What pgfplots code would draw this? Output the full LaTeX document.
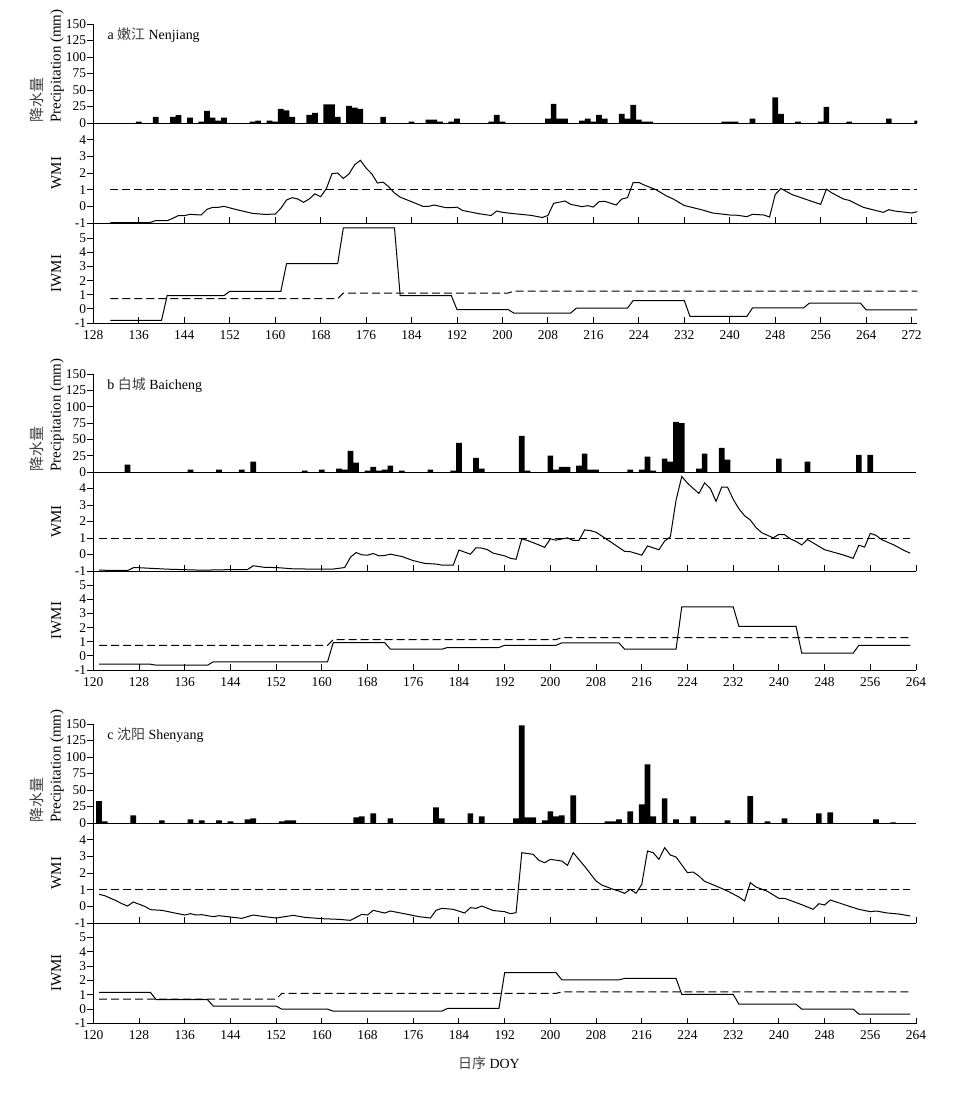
\documentclass[border=0pt]{standalone}
\usepackage{fontspec}
\setmainfont{Liberation Serif}
\newfontfamily\cjkfont{Noto Sans CJK SC}
\usepackage{pgfplots}
\pgfplotsset{compat=1.18}

\newcommand{\tf}{\fontsize{15}{18}\selectfont}
\newcommand{\tkf}{\fontsize{13.5}{16}\selectfont}
\newcommand{\ttlf}{\fontsize{14}{17}\selectfont}
\newcommand{\cjk}[1]{{\cjkfont\color{black!75}#1}}

\pgfplotsset{
  panel/.style={
    scale only axis,
    axis x line*=bottom, axis y line*=left,
    axis line style={line width=0.9bp},
    tick style={black, line width=0.9bp},
    major tick length=6bp,
    xtick align=inside, ytick align=outside,
    /pgf/number format/assume math mode=true,
    tick label style={font=\tkf},
    label style={font=\tf},
    yticklabel style={inner sep=1bp},
    xticklabel style={yshift=-4bp},
    ylabel style={at={(axis description cs:-0.045,0.5)}, anchor=center},
  },
  xa/.style={xmin=128, xmax=273, width=824bp, xtick={128,136,...,272}},
  xb/.style={xmin=120, xmax=264, width=822.7bp, xtick={120,128,...,264}},
  prec/.style={panel, ymin=0, ymax=150, ytick={0,25,...,150}, xtick=\empty,
    ylabel={\cjk{降水量}\\Precipitation (mm)},
    ylabel style={align=left, at={(axis description cs:-0.0356,0)}, anchor=south west, inner sep=0pt}},
  wmi/.style={panel, ymin=-1, ymax=5, ytick={-1,0,...,4}, xticklabel=\empty, ylabel={WMI}},
  iwmi/.style={panel, ymin=-1, ymax=6, ytick={-1,0,...,5}, ylabel={IWMI}},
  bars/.style={ybar, bar width=1, fill=black, draw=none},
  wline/.style={black, line width=1bp, mark=none},
  thr/.style={black, line width=1bp, mark=none, dash pattern=on 8bp off 4bp},
}

\begin{document}
\begin{tikzpicture}
\path[use as bounding box] (0,0) rectangle (964bp,-1100bp);

% ---------------- a Nenjiang ----------------
\begin{axis}[xa, prec, height=99bp, at={(93.3bp,-123bp)}, anchor=south west]
\addplot[bars] coordinates {
(136,2) (139,9.4) (142,9.4) (143,12) (145,8) (147,2) (148,18.4) (149,8) (150,3.5) (151,8)
(156,2) (157,3.5) (159,3.5) (160,2) (161,21.4) (162,19) (163,9.4) (166,12.4) (167,15.4)
(169,28.3) (170,28.3) (171,9.4) (173,25.8) (174,23.4) (175,21.4) (179,9.4) (184,2)
(187,5) (188,5) (189,2) (191,2) (192,6.5) (198,2) (199,12.4) (200,2)
(208,6.5) (209,28.8) (210,6.5) (211,6.5) (214,3.5) (215,6.5) (216,2) (217,12.4) (218,6.5)
(221,14) (222,6.5) (223,27.3) (224,5) (225,2) (226,2) (239,2) (240,2) (241,2) (244,6.5)
(248,39) (249,14) (252,2) (256,2) (257,24.4) (261,2) (268,6.5) (273,3.5)
};
\node[anchor=north west, inner sep=0pt, font=\ttlf] at (rel axis cs:0.017,0.96) {a \cjk{嫩江} Nenjiang};
\end{axis}

\begin{axis}[xa, wmi, height=100bp, at={(93.3bp,-223bp)}, anchor=south west]
\addplot[thr] coordinates {(131,1) (273,1)};
\addplot[wline] coordinates {
(131,-0.97) (137,-0.98) (138,-0.97) (139,-0.85) (141,-0.86) (142,-0.72) (143,-0.55) (144,-0.56)
(145,-0.48) (147,-0.52) (148,-0.18) (149,-0.06) (150,-0.06) (151,0.0) (153,-0.18) (156,-0.42)
(158,-0.48) (160,-0.47) (161,-0.12) (162,0.38) (163,0.52) (164,0.44) (165,0.24) (166,0.44)
(167,0.75) (168,0.58) (169,1.05) (170,1.96) (171,2.0) (172,1.67) (173,1.95) (174,2.5)
(175,2.76) (176,2.3) (177,1.95) (178,1.4) (179,1.45) (180,1.17) (181,0.8) (182,0.55)
(184,0.28) (186,0.0) (187,0.0) (188,0.08) (190,-0.08) (191,-0.08) (192,-0.05) (193,-0.25)
(196,-0.45) (198,-0.55) (199,-0.28) (200,-0.36) (202,-0.44) (205,-0.54) (207,-0.67) (208,-0.55)
(209,0.18) (211,0.32) (212,0.12) (214,-0.02) (215,0.04) (216,-0.04) (217,0.28) (218,0.3)
(220,0.08) (221,0.44) (222,0.52) (223,1.43) (224,1.43) (225,1.27) (227,1.0) (229,0.6)
(230,0.45) (232,0.05) (235,-0.2) (237,-0.4) (240,-0.52) (241,-0.52) (243,-0.62) (244,-0.48)
(246,-0.52) (247,-0.64) (248,0.71) (249,1.07) (251,0.7) (254,0.35) (256,0.12) (257,1.03)
(258,0.8) (260,0.44) (261,0.36) (263.5,-0.06) (267,-0.36) (268,-0.2) (269,-0.28) (272,-0.4) (273,-0.32)
};
\end{axis}

\begin{axis}[xa, iwmi, height=99bp, at={(93.3bp,-323bp)}, anchor=south west]
\addplot[thr] coordinates {(131,0.72) (171,0.72) (172,1.12) (201,1.12) (202,1.25) (273,1.25)};
\addplot[wline] coordinates {
(131,-0.82) (140,-0.82) (141,0.94) (151,0.94) (152,1.24) (161,1.24) (162,3.19) (171,3.19)
(172,5.72) (181,5.72) (182,0.94) (191,0.94) (192,-0.05) (201,-0.05) (202,-0.3) (212,-0.3)
(213,0.05) (222,0.05) (223,0.59) (232,0.59) (233,-0.54) (243,-0.54) (244,0.07) (253,0.07)
(254,0.4) (263,0.4) (264,-0.07) (273,-0.07)
};
\end{axis}

% ---------------- b Baicheng ----------------
\begin{axis}[xb, prec, height=98bp, at={(93.3bp,-472bp)}, anchor=south west]
\addplot[bars] coordinates {
(126,11.2) (137,3.5) (142,3.5) (146,3.5) (148,15.7) (157,2) (160,3.5) (163,5) (164,3.5)
(165,32.5) (166,14.2) (168,2) (169,8) (170,2) (171,3.5) (172,9.7) (174,2) (179,3.5) (183,2)
(184,44.7) (187,21.8) (188,5) (195,55.4) (196,2) (200,24.9) (201,3.5) (202,8) (203,8)
(205,9.7) (206,28) (207,3.5) (208,3.5) (214,3.5) (216,3.5) (217,23.4) (218,2) (220,20.3)
(221,15.7) (222,76.7) (223,75) (226,5) (227,28) (230,37) (231,18.8) (240,20.3) (245,15.7)
(254,26.4) (256,26.4)
};
\node[anchor=north west, inner sep=0pt, font=\ttlf] at (rel axis cs:0.017,0.96) {b \cjk{白城} Baicheng};
\end{axis}

\begin{axis}[xb, wmi, height=99bp, at={(93.3bp,-571bp)}, anchor=south west]
\addplot[thr] coordinates {(121,1) (263,1)};
\addplot[wline] coordinates {
(121,-0.95) (126,-0.97) (127,-0.8) (128,-0.8) (133,-0.89) (139,-0.95) (145,-0.91) (147,-0.91)
(148,-0.68) (150,-0.78) (152,-0.79) (155,-0.87) (160,-0.89) (162,-0.88) (164,-0.79) (165,-0.17)
(166,0.12) (167,-0.02) (168,-0.04) (169,0.06) (170,-0.08) (171,-0.06) (172,0.02) (174,-0.12)
(176,-0.37) (178,-0.54) (180,-0.58) (181,-0.64) (183,-0.64) (184,0.27) (186,0.02) (187,0.41)
(188,0.39) (189,0.29) (190,0.08) (192,-0.08) (193,-0.23) (194,-0.29) (195,0.95) (196,0.85)
(198,0.58) (199,0.43) (200,0.95) (201,0.87) (203,1.01) (204,0.85) (205,0.85) (206,1.49)
(207,1.45) (208,1.35) (209,1.12) (211,0.66) (213,0.19) (214,0.17) (216,-0.04) (217,0.52)
(219,0.29) (220,0.81) (221,1.07) (222,3.29) (223,4.73) (224,4.32) (226,3.7) (227,4.34)
(228,4.0) (229,3.22) (230,4.09) (231,4.09) (232,3.35) (233,2.77) (234,2.35) (235,2.09)
(236,1.63) (237,1.32) (239,1.01) (240,1.22) (241,1.2) (242,0.95) (243,0.8) (244,0.58)
(245,0.91) (248,0.29) (251,0.0) (253,-0.23) (254,0.56) (255,0.45) (256,1.28) (257,1.16)
(258,0.9) (260,0.6) (262,0.23) (263,0.08)
};
\end{axis}

\begin{axis}[xb, iwmi, height=99bp, at={(93.3bp,-670bp)}, anchor=south west]
\addplot[thr] coordinates {(121,0.75) (161,0.75) (162,1.15) (201,1.15) (202,1.29) (263,1.29)};
\addplot[wline] coordinates {
(121,-0.59) (130,-0.59) (131,-0.66) (140,-0.66) (141,-0.42) (161,-0.42) (162,0.94) (171,0.94)
(172,0.47) (181,0.47) (182,0.59) (191,0.59) (192,0.75) (201,0.75) (202,0.92) (212,0.92)
(213,0.47) (222,0.47) (223,3.47) (232,3.47) (233,2.09) (243,2.09) (244,0.19) (253,0.19)
(254,0.75) (263,0.75)
};
\end{axis}

% ---------------- c Shenyang ----------------
\begin{axis}[xb, prec, height=99bp, at={(93.3bp,-823bp)}, anchor=south west]
\addplot[bars] coordinates {
(121,33) (122,2.5) (127,11.7) (132,4) (137,5.6) (139,4) (142,4) (144,2.5) (147,5.6) (148,7.1)
(153,2.5) (154,4) (155,4) (166,8.6) (167,10.1) (169,14.7) (172,7.1) (180,23.8) (181,7.1)
(186,14.7) (188,10.1) (194,7) (195,148) (196,8.6) (197,8.6) (199,4) (200,17.7) (201,10.1)
(202,11.7) (204,42) (210,2.5) (211,2.5) (212,5.6) (214,17.7) (216,28.4) (217,89) (218,10.1)
(220,37.5) (222,5.6) (225,10.1) (231,4) (235,40.6) (238,2.5) (241,7.1) (247,14.7) (249,16.2)
(257,5.6) (260,1)
};
\node[anchor=north west, inner sep=0pt, font=\ttlf] at (rel axis cs:0.017,0.96) {c \cjk{沈阳} Shenyang};
\end{axis}

\begin{axis}[xb, wmi, height=100bp, at={(93.3bp,-923bp)}, anchor=south west]
\addplot[thr] coordinates {(121,1) (263,1)};
\addplot[wline] coordinates {
(121,0.72) (122,0.64) (124,0.34) (125,0.16) (126,0.02) (127,0.26) (129,0.0) (130,-0.2)
(132,-0.24) (134,-0.38) (136,-0.52) (137,-0.44) (138,-0.52) (139,-0.5) (141,-0.62) (142,-0.56)
(144,-0.64) (146,-0.72) (148,-0.52) (150,-0.62) (152,-0.7) (155,-0.54) (157,-0.66) (160,-0.74)
(163,-0.78) (165,-0.84) (167,-0.48) (168,-0.52) (169,-0.24) (171,-0.4) (172,-0.28) (175,-0.48)
(177,-0.62) (179,-0.7) (180,-0.24) (181,-0.12) (183,-0.18) (185,-0.4) (186,-0.08) (187,-0.12)
(188,0.02) (190,-0.25) (192,-0.32) (193,-0.44) (194,-0.38) (195,3.22) (197,3.12) (198,2.76)
(199,2.62) (200,2.82) (202,2.72) (203,2.46) (204,3.22) (206,2.4) (208,1.52) (209,1.28)
(211,1.02) (212,0.92) (213,0.78) (214,1.02) (215,0.78) (216,1.32) (217,3.32) (218,3.22)
(219,2.82) (220,3.52) (221,3.08) (222,2.96) (224,2.02) (225,2.06) (226,1.82) (227,1.5)
(229,1.22) (231,0.92) (233,0.56) (234,0.32) (235,1.42) (236,1.16) (238,0.9) (240,0.48)
(241,0.48) (244,0.1) (246,-0.18) (247,0.16) (248,0.08) (249,0.38) (252,0.04) (254,-0.18)
(256,-0.32) (257,-0.28) (259,-0.4) (261,-0.46) (263,-0.58)
};
\end{axis}

\begin{axis}[xb, iwmi, height=100.5bp, at={(93.3bp,-1023.5bp)}, anchor=south west]
\addplot[thr] coordinates {(121,0.70) (152,0.70) (153,1.10) (201,1.10) (202,1.2) (263,1.2)};
\addplot[wline] coordinates {
(121,1.17) (130,1.17) (131,0.66) (140,0.66) (141,0.21) (152,0.21) (153,0.0) (161,0.0)
(162,-0.14) (181,-0.14) (182,0.05) (191,0.05) (192,2.54) (201,2.54) (202,2.04) (212,2.04)
(213,2.14) (222,2.14) (223,1.03) (232,1.03) (233,0.35) (243,0.35) (244,0.0) (253,0.0)
(254,-0.35) (263,-0.35)
};
\end{axis}

\node[font=\ttlf] at (489bp,-1063bp) {\cjk{日序} DOY};
\end{tikzpicture}
\end{document}
